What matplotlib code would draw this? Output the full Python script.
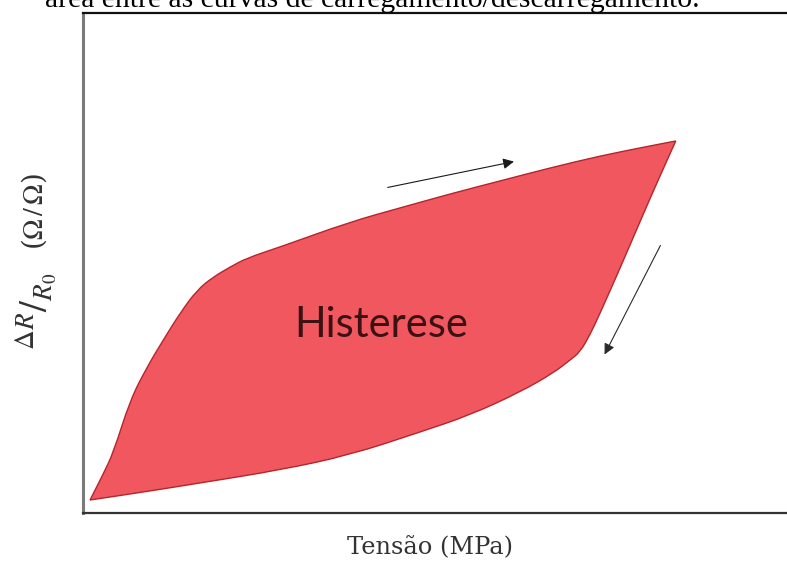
import matplotlib.pyplot as plt
from matplotlib.path import Path
from matplotlib.patches import PathPatch

# loading curve (upper), stress vs dR/R0, arbitrary units
load_x = [1.0, 2.8, 4.3, 6.7, 9.1, 11.4, 13.8, 16.2, 18.5, 20.9, 23.3, 28.0,
          37.9, 45.0, 52.1, 59.2, 66.3, 73.4, 80.5, 84.2]
load_y = [2.6, 7.6, 12.0, 22.6, 29.2, 34.6, 40.0, 44.6, 47.2, 49.2, 51.0, 53.2,
          58.2, 61.0, 63.8, 66.4, 69.0, 71.4, 73.4, 74.4]

# unloading curve (lower)
unload_x = [1.0, 9.5, 16.6, 28.0, 37.9, 47.9, 55.0, 62.1, 66.8, 69.2, 70.6,
            72.0, 73.4, 76.3, 79.1, 81.7, 84.2]
unload_y = [2.6, 4.4, 6.0, 8.6, 11.6, 16.2, 19.6, 24.2, 28.0, 30.6, 32.2,
            35.6, 39.8, 49.0, 58.2, 66.6, 74.4]


def smooth_segment(xs, ys):
    # quadratic bezier through midpoints, points act as control points
    pts = list(zip(xs, ys))
    verts = []
    codes = []
    mid = lambda a, b: ((a[0] + b[0]) / 2, (a[1] + b[1]) / 2)
    verts.append(mid(pts[0], pts[1]))
    codes.append(Path.LINETO)
    for i in range(1, len(pts) - 1):
        verts += [pts[i], mid(pts[i], pts[i + 1])]
        codes += [Path.CURVE3, Path.CURVE3]
    verts.append(pts[-1])
    codes.append(Path.LINETO)
    return verts, codes


fig = plt.figure(figsize=(7.87, 5.64), dpi=100)
ax = fig.add_axes([83 / 787, 1 - 513 / 564, 1 - 83 / 787, 500 / 564])

v1, c1 = smooth_segment(load_x, load_y)
v2, c2 = smooth_segment(unload_x[::-1], unload_y[::-1])
verts = [(load_x[0], load_y[0])] + v1 + v2 + [(load_x[0], load_y[0])]
codes = [Path.MOVETO] + c1 + c2 + [Path.CLOSEPOLY]
ax.add_patch(PathPatch(Path(verts, codes), facecolor='#F0575E',
                       edgecolor='#B3262C', linewidth=1.0))

ax.text(42.3, 37.6, 'Histerese', fontsize=30, family='Lato', color='#3b1214',
        ha='center', va='center')

# direction arrows
ax.annotate('', xy=(61.6, 70.4), xytext=(42.9, 65.0),
            arrowprops=dict(arrowstyle='-|>', color='#1a1a1a', lw=0.8,
                            mutation_scale=16))
ax.annotate('', xy=(73.9, 31.2), xytext=(82.2, 54.0),
            arrowprops=dict(arrowstyle='-|>', color='#2a2a2a', lw=0.8,
                            mutation_scale=16))

ax.set_xlim(0, 100)
ax.set_ylim(0, 100)
ax.set_xticks([])
ax.set_yticks([])
ax.spines['right'].set_visible(False)
ax.spines['left'].set_color('#7a7a7a')
ax.spines['left'].set_linewidth(2.2)
ax.spines['top'].set_color('#111111')
ax.spines['top'].set_linewidth(1.6)
ax.spines['bottom'].set_color('#333333')
ax.spines['bottom'].set_linewidth(1.6)

plt.rcParams['mathtext.fontset'] = 'stix'
fig.text(36 / 787, 1 - 311 / 564, r'$^{\Delta R}/_{R_0}$',
         rotation=90, ha='center', va='center', fontsize=28,
         family='DejaVu Serif', color='#333333')
fig.text(34 / 787, 1 - 211 / 564, r'($\Omega\,/\,\Omega$)',
         rotation=90, ha='center', va='center', fontsize=20,
         family='DejaVu Serif', color='#333333')
fig.text(430 / 787, 1 - 548 / 564, 'Tensão (MPa)', ha='center', va='center',
         fontsize=17.4, family='DejaVu Serif', color='#333333')

# caption cut off at the top of the image
fig.text(45 / 787, 1 - 7 / 564, 'área entre as curvas de carregamento/descarregamento.',
         ha='left', va='baseline', fontsize=21.3, family='Liberation Serif',
         color='black')

fig.savefig('out.png', dpi=100)
